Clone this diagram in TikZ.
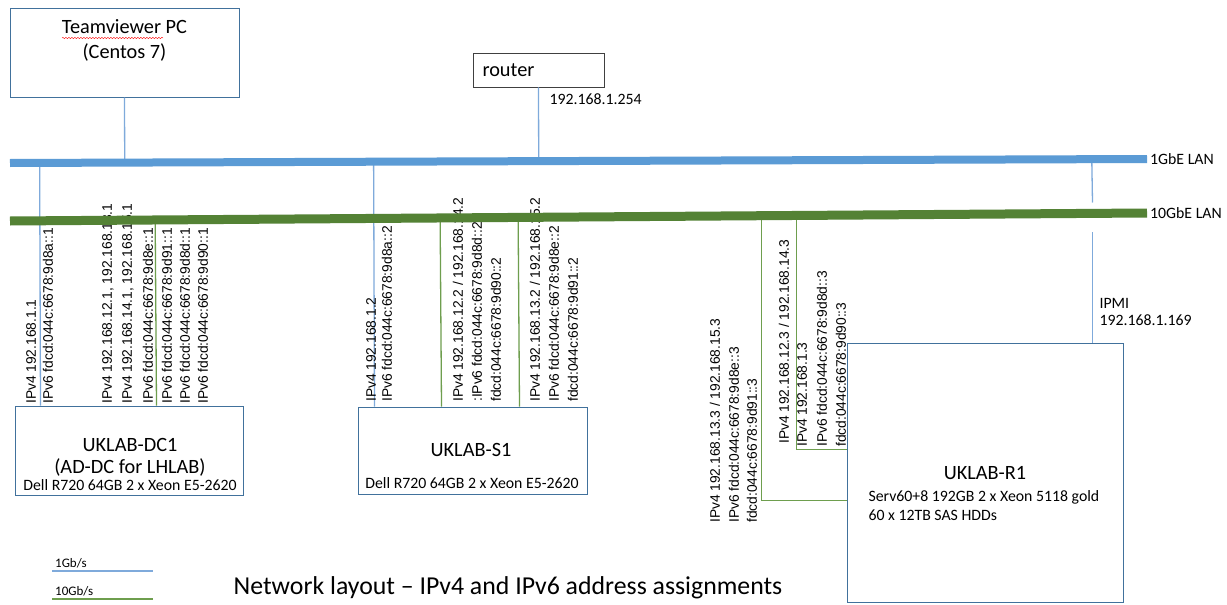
\documentclass[tikz,border=0pt]{standalone}
\usepackage{fontspec}
\setmainfont{Carlito}
\newfontfamily\arialfont{Liberation Sans}
\usetikzlibrary{calc,decorations.pathmorphing}

\definecolor{busblue}{HTML}{5B9BD5}
\definecolor{busgreen}{HTML}{548235}
\definecolor{linkblue}{HTML}{7FAADB}
\definecolor{linkgreen}{HTML}{6E9E4E}
\definecolor{boxline}{HTML}{41719C}

\begin{document}
\begin{tikzpicture}[x=1pt,y=-1pt,
  server/.style={draw=boxline,line width=1pt,inner sep=0pt},
  bigtxt/.style={font=\fontsize{20.3}{24}\selectfont},
  smalltxt/.style={font=\fontsize{15.8}{19}\selectfont},
  addr/.style={font=\arialfont\fontsize{13.8}{16}\selectfont,rotate=90,anchor=west,inner sep=0pt},
  link1/.style={linkblue,line width=1.3pt},
  link10/.style={linkgreen,line width=1.3pt},
  bus1/.style={busblue,line width=8pt},
  bus10/.style={busgreen,line width=9pt}]

  %background
  \fill[white] (0,0) rectangle (1227,605);
  \useasboundingbox (0,0) rectangle (1227,605);

  %boxes
  \node[server,minimum width=229pt,minimum height=89pt] (tv) at (124.5,52.5) {};
  \node[draw=black!75,line width=0.9pt,minimum width=131pt,minimum height=34pt,inner sep=0pt] (router) at (538.5,70) {};
  \node[server,minimum width=228pt,minimum height=89pt] (dc1) at (129,450.5) {};
  \node[server,minimum width=229pt,minimum height=87pt] (s1) at (472.5,450.5) {};
  \node[server,minimum width=276pt,minimum height=259pt] (r1) at (985,472.5) {};

  %box texts
  \node[bigtxt] (tvname) at (124.5,27) {Teamviewer PC};
  \node[bigtxt] (tvos) at (124.5,52) {(Centos 7)};
  \draw[red,decorate,decoration={snake,amplitude=0.7pt,segment length=3pt}] (62,38) -- (163,38);
  \node[bigtxt,anchor=west] (routername) at (479,70) {router};
  \node[smalltxt,anchor=west] (routerip) at (546,99) {192.168.1.254};
  \node[bigtxt] (dc1name) at (130,445) {UKLAB-DC1};
  \node[bigtxt] (dc1role) at (130,467) {(AD-DC for LHLAB)};
  \node[smalltxt] (dc1hw) at (130,485) {Dell R720 64GB 2 x Xeon E5-2620};
  \node[bigtxt] (s1name) at (471,450) {UKLAB-S1};
  \node[smalltxt] (s1hw) at (472,483) {Dell R720 64GB 2 x Xeon E5-2620};
  \node[bigtxt] (r1name) at (985,473) {UKLAB-R1};
  \node[smalltxt,anchor=west] (r1hw) at (865,497) {Serv60+8 192GB 2 x Xeon 5118 gold};
  \node[smalltxt,anchor=west] (r1disk) at (865,515) {60 x 12TB SAS HDDs};
  \node[smalltxt,anchor=west] (ipmi) at (1096,303) {IPMI};
  \node[smalltxt,anchor=west] (ipmiip) at (1096,320) {192.168.1.169};

  %LAN ends
  \coordinate (g1w) at (10,163);
  \coordinate (g1e) at (1147,159);
  \coordinate (g10w) at (10,221);
  \coordinate (g10e) at (1147,213);

  %1GbE links
  \coordinate (dc1-1g) at ([xshift=26pt]dc1.north west);
  \coordinate (s1-1g) at ([xshift=17pt]s1.north west);
  \coordinate (r1-ipmi) at ([xshift=246pt]r1.north west);
  \draw[link1] (tv.south) -- ($(g1w)!(tv.south)!(g1e)$);
  \draw[link1] (router.south) -- ($(g1w)!(router.south)!(g1e)$);
  \draw[link1] (dc1-1g) -- ($(g1w)!(dc1-1g)!(g1e)$);
  \draw[link1] (s1-1g) -- ($(g1w)!(s1-1g)!(g1e)$);
  \draw[link1] (r1-ipmi) -- ([yshift=111pt]r1-ipmi);
  \draw[link1] ([yshift=140pt]r1-ipmi) -- ($(g1w)!(r1-ipmi)!(g1e)$);

  %10GbE links
  \coordinate (dc1-10g) at ([xshift=142pt]dc1.north west);
  \coordinate (s1-10a) at ([xshift=84pt]s1.north west);
  \coordinate (s1-10b) at ([xshift=162pt]s1.north west);
  \coordinate (r1-10a) at ([yshift=-158pt]r1.north west);
  \coordinate (r1-10b) at ([yshift=-107pt]r1.north west);
  \draw[link10] (dc1-10g) -- ($(g10w)!(dc1-10g)!(g10e)$);
  \draw[link10] (s1-10a) -- ($(g10w)!(s1-10a)!(g10e)$);
  \draw[link10] (s1-10b) -- ($(g10w)!(s1-10b)!(g10e)$);
  \draw[link10] (r1-10a) -| ($(g10w)!(760,0)!(g10e)$);
  \draw[link10] (r1-10b) -| ($(g10w)!(795,0)!(g10e)$);

  %addresses DC1
  \node[addr] (dc1a1) at (31,404) {IPv4 192.168.1.1};
  \node[addr] (dc1a2) at (48,404) {IPv6 fdcd:044c:6678:9d8a::1};
  \node[addr] (dc1a3) at (108,404) {IPv4 192.168.12.1, 192.168.13.1};
  \node[addr] (dc1a4) at (128,404) {IPv4 192.168.14.1, 192.168.15.1};
  \node[addr] (dc1a5) at (148,404) {IPv6 fdcd:044c:6678:9d8e::1};
  \node[addr] (dc1a6) at (167,404) {IPv6 fdcd:044c:6678:9d91::1};
  \node[addr] (dc1a7) at (185,404) {IPv6 fdcd:044c:6678:9d8d::1};
  \node[addr] (dc1a8) at (203,404) {IPv6 fdcd:044c:6678:9d90::1};

  %addresses S1
  \node[addr] (s1a1) at (371,402) {IPv4 192.168.1.2};
  \node[addr] (s1a2) at (387,402) {IPv6 fdcd:044c:6678:9d8a::2};
  \node[addr] (s1a3) at (458,402) {IPv4 192.168.12.2 / 192.168.14.2};
  \node[addr] (s1a4) at (477,402) {:IPv6 fdcd:044c:6678:9d8d::2};
  \node[addr] (s1a5) at (496,402) {fdcd:044c:6678:9d90::2};
  \node[addr] (s1a6) at (535,402) {IPv4 192.168.13.2 / 192.168.15.2};
  \node[addr] (s1a7) at (554,402) {IPv6 fdcd:044c:6678:9d8e::2};
  \node[addr] (s1a8) at (573,402) {fdcd:044c:6678:9d91::2};

  %addresses R1
  \node[addr] (r1a1) at (715,523) {IPv4 192.168.13.3 / 192.168.15.3};
  \node[addr] (r1a2) at (734,523) {IPv6 fdcd:044c:6678:9d8e::3};
  \node[addr] (r1a3) at (752,523) {fdcd:044c:6678:9d91::3};
  \node[addr] (r1a4) at (784,444) {IPv4 192.168.12.3 / 192.168.14.3};
  \node[addr] (r1a5) at (802,447) {IPv4 192.168.1.3};
  \node[addr] (r1a6) at (822,447) {IPv6 fdcd:044c:6678:9d8d::3};
  \node[addr] (r1a7) at (841,447) {fdcd:044c:6678:9d90::3};

  %LANs
  \draw[bus1] (g1w) -- (g1e);
  \draw[bus10] (g10w) -- (g10e);
  \node[smalltxt,anchor=west,inner sep=0pt] (lan1) at ([xshift=3pt]g1e) {1GbE LAN};
  \node[smalltxt,anchor=west,inner sep=0pt] (lan10) at ([xshift=3pt]g10e) {10GbE LAN};

  %legend
  \node[font=\fontsize{13}{15}\selectfont,anchor=west,inner sep=0pt] (leg1) at (55,563) {1Gb/s};
  \node[font=\fontsize{13}{15}\selectfont,anchor=west,inner sep=0pt] (leg10) at (55,591) {10Gb/s};
  \draw[linkblue,line width=1.8pt] ([shift={(-3pt,-8pt)}]leg1.west) -- ++(101,0);
  \draw[linkgreen,line width=1.8pt] ([shift={(-3pt,-8pt)}]leg10.west) -- ++(101,0);

  %title
  \node[font=\fontsize{25.8}{30}\selectfont] (title) at (508,588) {Network layout \textendash{} IPv4 and IPv6 address assignments};
\end{tikzpicture}
\end{document}
